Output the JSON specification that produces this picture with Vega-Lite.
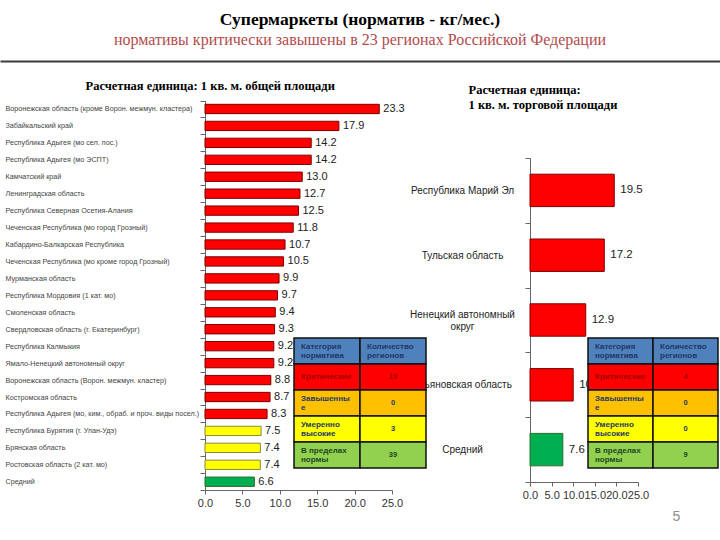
{
  "$schema": "https://vega.github.io/schema/vega-lite/v6.json",
  "width": 720,
  "height": 479,
  "autosize": {"type": "none"},
  "padding": {"left": 0, "right": 0, "top": 61, "bottom": 0},
  "background": "white",
  "title": {
    "text": "Супермаркеты (норматив - кг/мес.)",
    "subtitle": "нормативы критически завышены в 23 регионах Российской Федерации",
    "anchor": "middle",
    "frame": "group",
    "font": "Liberation Serif",
    "fontSize": 17.5,
    "fontWeight": "bold",
    "color": "#000000",
    "subtitleFont": "Liberation Serif",
    "subtitleFontSize": 16,
    "subtitleColor": "#B34B4B",
    "subtitlePadding": 4,
    "offset": 8
  },
  "config": {"view": {"stroke": null}, "axis": {"grid": false}},
  "datasets": {
    "left": [
      {"region": "Воронежская область (кроме Ворон. межмун. кластера)", "value": 23.3, "level": "critical"},
      {"region": "Забайкальский край", "value": 17.9, "level": "critical"},
      {"region": "Республика Адыгея (мо сел. пос.)", "value": 14.2, "level": "critical"},
      {"region": "Республика Адыгея (мо ЭСПТ)", "value": 14.2, "level": "critical"},
      {"region": "Камчатский край", "value": 13.0, "level": "critical"},
      {"region": "Ленинградская область", "value": 12.7, "level": "critical"},
      {"region": "Республика Северная Осетия-Алания", "value": 12.5, "level": "critical"},
      {"region": "Чеченская Республика (мо город Грозный)", "value": 11.8, "level": "critical"},
      {"region": "Кабардино-Балкарская Республика", "value": 10.7, "level": "critical"},
      {"region": "Чеченская Республика (мо кроме город Грозный)", "value": 10.5, "level": "critical"},
      {"region": "Мурманская область", "value": 9.9, "level": "critical"},
      {"region": "Республика Мордовия (1 кат. мо)", "value": 9.7, "level": "critical"},
      {"region": "Смоленская область", "value": 9.4, "level": "critical"},
      {"region": "Свердловская область (г. Екатеринбург)", "value": 9.3, "level": "critical"},
      {"region": "Республика Калмыкия", "value": 9.2, "level": "critical"},
      {"region": "Ямало-Ненецкий автономный округ", "value": 9.2, "level": "critical"},
      {"region": "Воронежская область (Ворон. межмун. кластер)", "value": 8.8, "level": "critical"},
      {"region": "Костромская область", "value": 8.7, "level": "critical"},
      {"region": "Республика Адыгея (мо, ким., обраб. и проч. виды посел.)", "value": 8.3, "level": "critical"},
      {"region": "Республика Бурятия (г. Улан-Удэ)", "value": 7.5, "level": "moderate"},
      {"region": "Брянская область", "value": 7.4, "level": "moderate"},
      {"region": "Ростовская область (2 кат. мо)", "value": 7.4, "level": "moderate"},
      {"region": "Средний", "value": 6.6, "level": "avg"}
    ],
    "right": [
      {"region": "Республика Марий Эл", "value": 19.5, "level": "critical"},
      {"region": "Тульская область", "value": 17.2, "level": "critical"},
      {"region": "Ненецкий автономный округ", "value": 12.9, "level": "critical"},
      {"region": "Ульяновская область", "value": 10.0, "level": "critical"},
      {"region": "Средний", "value": 7.6, "level": "avg"}
    ],
    "tables": [
      {"table": "left", "row": 0, "col": 0, "category": "header", "kind": "multi", "text": "Категория\nнорматива"},
      {"table": "left", "row": 0, "col": 1, "category": "header", "kind": "multi", "text": "Количество\nрегионов"},
      {"table": "left", "row": 1, "col": 0, "category": "critical", "kind": "label", "text": "Критические"},
      {"table": "left", "row": 1, "col": 1, "category": "critical", "kind": "number", "text": "19"},
      {"table": "left", "row": 2, "col": 0, "category": "elevated", "kind": "multi", "text": "Завышенны\nе"},
      {"table": "left", "row": 2, "col": 1, "category": "elevated", "kind": "number", "text": "0"},
      {"table": "left", "row": 3, "col": 0, "category": "moderate", "kind": "multi", "text": "Умеренно\nвысокие"},
      {"table": "left", "row": 3, "col": 1, "category": "moderate", "kind": "number", "text": "3"},
      {"table": "left", "row": 4, "col": 0, "category": "normal", "kind": "multi", "text": "В пределах\nнормы"},
      {"table": "left", "row": 4, "col": 1, "category": "normal", "kind": "number", "text": "39"},
      {"table": "right", "row": 0, "col": 0, "category": "header", "kind": "multi", "text": "Категория\nнорматива"},
      {"table": "right", "row": 0, "col": 1, "category": "header", "kind": "multi", "text": "Количество\nрегионов"},
      {"table": "right", "row": 1, "col": 0, "category": "critical", "kind": "label", "text": "Критические"},
      {"table": "right", "row": 1, "col": 1, "category": "critical", "kind": "number", "text": "4"},
      {"table": "right", "row": 2, "col": 0, "category": "elevated", "kind": "multi", "text": "Завышенны\nе"},
      {"table": "right", "row": 2, "col": 1, "category": "elevated", "kind": "number", "text": "0"},
      {"table": "right", "row": 3, "col": 0, "category": "moderate", "kind": "multi", "text": "Умеренно\nвысокие"},
      {"table": "right", "row": 3, "col": 1, "category": "moderate", "kind": "number", "text": "0"},
      {"table": "right", "row": 4, "col": 0, "category": "normal", "kind": "multi", "text": "В пределах\nнормы"},
      {"table": "right", "row": 4, "col": 1, "category": "normal", "kind": "number", "text": "9"}
    ],
    "edges": [{"edge": 0}, {"edge": 1}]
  },
  "resolve": {
    "scale": {"x": "independent", "y": "independent", "fill": "independent", "stroke": "independent", "color": "independent"},
    "axis": {"x": "independent", "y": "independent"}
  },
  "layer": [
    {
      "data": {"name": "edges"},
      "mark": {"type": "tick", "opacity": 0},
      "encoding": {
        "x": {
          "field": "edge", "type": "quantitative",
          "scale": {"domain": [0, 1], "range": [0, 720], "nice": false},
          "axis": {"orient": "top", "labels": false, "ticks": false, "grid": false, "title": null, "domain": true, "domainColor": "#3a3a3a", "domainWidth": 2}
        }
      }
    },
    {
      "data": {"name": "left"},
      "encoding": {
        "y": {
          "field": "region", "type": "nominal", "sort": null,
          "scale": {"range": [39.5, 429.2], "paddingInner": 0, "paddingOuter": 0},
          "axis": {
            "orient": "left", "offset": -205, "tickBand": "extent", "tickSize": 5,
            "tickColor": "#666666", "domainColor": "#666666",
            "labelAlign": "left", "labelPadding": 195, "labelFontSize": 7.2,
            "labelFont": "Liberation Sans", "labelColor": "#444444", "labelLimit": 400,
            "title": "Расчетная единица: 1 кв. м. общей площади",
            "titleAngle": 0, "titleAlign": "left", "titleBaseline": "middle",
            "titleX": -120, "titleY": 24, "titleFont": "Liberation Serif",
            "titleFontSize": 12.5, "titleFontWeight": "bold", "titleColor": "#000000"
          }
        },
        "x": {
          "field": "value", "type": "quantitative",
          "scale": {"domain": [0, 25], "range": [205, 392], "nice": false},
          "axis": {
            "orient": "bottom", "offset": -50, "values": [0, 5, 10, 15, 20, 25], "format": ".1f",
            "labelFontSize": 11, "labelFont": "Liberation Sans", "labelColor": "#333333",
            "tickSize": 4, "tickColor": "#666666", "domainColor": "#666666",
            "labelFlush": false, "labelOverlap": false, "title": null, "labelPadding": 3
          }
        }
      },
      "layer": [
        {
          "mark": {"type": "bar", "height": {"band": 0.55}, "strokeWidth": 1},
          "encoding": {
            "fill": {"field": "level", "type": "nominal", "scale": {"domain": ["critical", "moderate", "avg"], "range": ["#FF0000", "#FFFF00", "#00B050"]}, "legend": null},
            "stroke": {"field": "level", "type": "nominal", "scale": {"domain": ["critical", "moderate", "avg"], "range": ["#7A0000", "#8A8A3A", "#2E6B2E"]}, "legend": null}
          }
        },
        {
          "mark": {"type": "text", "align": "left", "dx": 4, "fontSize": 11, "font": "Liberation Sans", "color": "#222222"},
          "encoding": {"text": {"field": "value", "type": "quantitative", "format": ".1f"}}
        }
      ]
    },
    {
      "data": {"name": "right"},
      "encoding": {
        "y": {
          "field": "region", "type": "nominal", "sort": null,
          "scale": {"range": [97, 421], "paddingInner": 0, "paddingOuter": 0},
          "axis": {
            "orient": "left", "offset": -530, "tickBand": "extent", "tickSize": 5,
            "tickColor": "#666666", "domainColor": "#666666",
            "labelAlign": "center", "labelPadding": 63, "labelFontSize": 10,
            "labelFont": "Liberation Sans", "labelColor": "#222222", "labelLimit": 400,
            "labelLineHeight": 12,
            "labelOffset": {"condition": {"test": "datum.value == 'Ненецкий автономный округ'", "value": -6}, "value": 0},
            "labelExpr": "datum.value == 'Ненецкий автономный округ' ? ['Ненецкий автономный', 'округ'] : datum.label",
            "title": ["Расчетная единица:", "1 кв. м. торговой площади"],
            "titleAngle": 0, "titleAlign": "left", "titleBaseline": "top",
            "titleX": -62, "titleY": 22, "titleLineHeight": 15, "titleFont": "Liberation Serif",
            "titleFontSize": 12.5, "titleFontWeight": "bold", "titleColor": "#000000"
          }
        },
        "x": {
          "field": "value", "type": "quantitative",
          "scale": {"domain": [0, 25], "range": [530, 638], "nice": false},
          "axis": {
            "orient": "bottom", "offset": -58, "values": [0, 5, 10, 15, 20, 25], "format": ".1f",
            "labelFontSize": 11, "labelFont": "Liberation Sans", "labelColor": "#333333",
            "tickSize": 4, "tickColor": "#666666", "domainColor": "#666666",
            "labelFlush": false, "labelOverlap": false, "labelPadding": 3,
            "title": "5", "titleX": 676, "titleY": 34, "titleAngle": 0, "titleAlign": "center",
            "titleBaseline": "middle", "titleFont": "Liberation Sans", "titleFontSize": 14,
            "titleFontWeight": "normal", "titleColor": "#8C8C8C"
          }
        }
      },
      "layer": [
        {
          "mark": {"type": "bar", "height": {"band": 0.5}, "strokeWidth": 1},
          "encoding": {
            "fill": {"field": "level", "type": "nominal", "scale": {"domain": ["critical", "avg"], "range": ["#FF0000", "#00B050"]}, "legend": null},
            "stroke": {"field": "level", "type": "nominal", "scale": {"domain": ["critical", "avg"], "range": ["#7A0000", "#2E6B2E"]}, "legend": null}
          }
        },
        {
          "mark": {"type": "text", "align": "left", "dx": 6, "fontSize": 11.5, "font": "Liberation Sans", "color": "#222222"},
          "encoding": {"text": {"field": "value", "type": "quantitative", "format": ".1f"}}
        }
      ]
    },
    {
      "data": {"name": "tables"},
      "transform": [{"filter": "datum.table == 'left'"}],
      "encoding": {
        "x": {"field": "col", "type": "ordinal", "scale": {"range": [294, 426], "paddingInner": 0, "paddingOuter": 0}, "axis": null},
        "y": {"field": "row", "type": "ordinal", "scale": {"range": [277, 407], "paddingInner": 0, "paddingOuter": 0}, "axis": null}
      },
      "layer": [
        {
          "mark": {"type": "rect", "stroke": "#111111", "strokeWidth": 1.5},
          "encoding": {
            "fill": {"field": "category", "type": "nominal", "scale": {"domain": ["header", "critical", "elevated", "moderate", "normal"], "range": ["#4F81BD", "#FF0000", "#FFC000", "#FFFF00", "#92D050"]}, "legend": null}
          }
        },
        {
          "transform": [{"filter": "datum.kind == 'label'"}],
          "mark": {"type": "text", "align": "left", "dx": 7, "fontSize": 8, "fontWeight": "bold", "font": "Liberation Sans"},
          "encoding": {
            "x": {"field": "col", "type": "ordinal", "bandPosition": 0},
            "text": {"field": "text"},
            "color": {"field": "category", "type": "nominal", "scale": {"domain": ["header", "critical", "elevated", "moderate", "normal"], "range": ["#1F3864", "#A00000", "#1F3864", "#1F3864", "#1E4620"]}, "legend": null}
          }
        },
        {
          "transform": [{"filter": "datum.kind == 'multi'"}],
          "mark": {"type": "text", "align": "left", "dx": 7, "dy": -4.5, "fontSize": 8, "fontWeight": "bold", "font": "Liberation Sans", "lineBreak": "\n", "lineHeight": 9.5},
          "encoding": {
            "x": {"field": "col", "type": "ordinal", "bandPosition": 0},
            "text": {"field": "text"},
            "color": {"field": "category", "type": "nominal", "scale": {"domain": ["header", "critical", "elevated", "moderate", "normal"], "range": ["#1F3864", "#A00000", "#1F3864", "#1F3864", "#1E4620"]}, "legend": null}
          }
        },
        {
          "transform": [{"filter": "datum.kind == 'number'"}],
          "mark": {"type": "text", "align": "center", "fontSize": 7.5, "fontWeight": "bold", "font": "Liberation Sans"},
          "encoding": {
            "text": {"field": "text"},
            "color": {"field": "category", "type": "nominal", "scale": {"domain": ["header", "critical", "elevated", "moderate", "normal"], "range": ["#1F3864", "#A00000", "#1F3864", "#1F3864", "#1E4620"]}, "legend": null}
          }
        }
      ]
    },
    {
      "data": {"name": "tables"},
      "transform": [{"filter": "datum.table == 'right'"}],
      "encoding": {
        "x": {"field": "col", "type": "ordinal", "scale": {"range": [588, 718], "paddingInner": 0, "paddingOuter": 0}, "axis": null},
        "y": {"field": "row", "type": "ordinal", "scale": {"range": [277, 407], "paddingInner": 0, "paddingOuter": 0}, "axis": null}
      },
      "layer": [
        {
          "mark": {"type": "rect", "stroke": "#111111", "strokeWidth": 1.5},
          "encoding": {
            "fill": {"field": "category", "type": "nominal", "scale": {"domain": ["header", "critical", "elevated", "moderate", "normal"], "range": ["#4F81BD", "#FF0000", "#FFC000", "#FFFF00", "#92D050"]}, "legend": null}
          }
        },
        {
          "transform": [{"filter": "datum.kind == 'label'"}],
          "mark": {"type": "text", "align": "left", "dx": 7, "fontSize": 8, "fontWeight": "bold", "font": "Liberation Sans"},
          "encoding": {
            "x": {"field": "col", "type": "ordinal", "bandPosition": 0},
            "text": {"field": "text"},
            "color": {"field": "category", "type": "nominal", "scale": {"domain": ["header", "critical", "elevated", "moderate", "normal"], "range": ["#1F3864", "#A00000", "#1F3864", "#1F3864", "#1E4620"]}, "legend": null}
          }
        },
        {
          "transform": [{"filter": "datum.kind == 'multi'"}],
          "mark": {"type": "text", "align": "left", "dx": 7, "dy": -4.5, "fontSize": 8, "fontWeight": "bold", "font": "Liberation Sans", "lineBreak": "\n", "lineHeight": 9.5},
          "encoding": {
            "x": {"field": "col", "type": "ordinal", "bandPosition": 0},
            "text": {"field": "text"},
            "color": {"field": "category", "type": "nominal", "scale": {"domain": ["header", "critical", "elevated", "moderate", "normal"], "range": ["#1F3864", "#A00000", "#1F3864", "#1F3864", "#1E4620"]}, "legend": null}
          }
        },
        {
          "transform": [{"filter": "datum.kind == 'number'"}],
          "mark": {"type": "text", "align": "center", "fontSize": 7.5, "fontWeight": "bold", "font": "Liberation Sans"},
          "encoding": {
            "text": {"field": "text"},
            "color": {"field": "category", "type": "nominal", "scale": {"domain": ["header", "critical", "elevated", "moderate", "normal"], "range": ["#1F3864", "#A00000", "#1F3864", "#1F3864", "#1E4620"]}, "legend": null}
          }
        }
      ]
    }
  ]
}
